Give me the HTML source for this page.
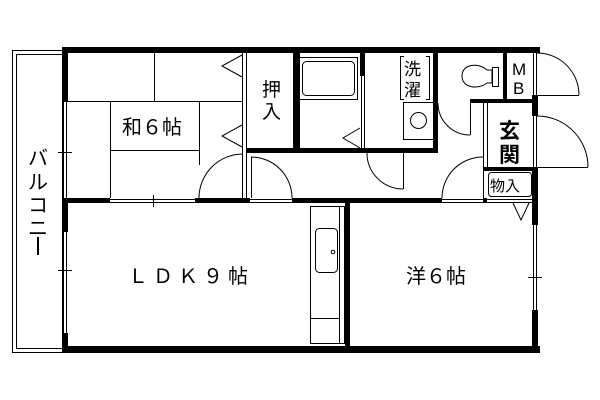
<!DOCTYPE html>
<html><head><meta charset="utf-8"><style>
html,body{margin:0;padding:0;background:#fff;}
svg{display:block;}
text{font-family:"Liberation Sans","Noto Sans CJK JP",sans-serif;fill:#000;}
</style></head><body>
<svg width="600" height="400" viewBox="0 0 600 400" xmlns="http://www.w3.org/2000/svg">
<g fill="none" stroke="#000" stroke-width="1">
<rect x="12.5" y="50.5" width="50" height="302"/>
<rect x="16.5" y="54.5" width="46" height="294"/>
</g>
<g fill="#000">
<rect x="62" y="47" width="478" height="6"/>
<rect x="62" y="47" width="6" height="55"/>
<rect x="62" y="198" width="6" height="34"/>
<rect x="62" y="333" width="6" height="20"/>
<rect x="62" y="346" width="478" height="7"/>
<rect x="62" y="198" width="48" height="5"/>
<rect x="195" y="198" width="55" height="5"/>
<rect x="292" y="198" width="150" height="5"/>
<rect x="483" y="198" width="4" height="5"/>
<rect x="532" y="47" width="6" height="6"/>
<rect x="532" y="95" width="6" height="21"/>
<rect x="532" y="167" width="6" height="58"/>
<rect x="532" y="310" width="6" height="43"/>
<rect x="345" y="203" width="5" height="150"/>
<rect x="296" y="53" width="4" height="100"/>
<rect x="247" y="148" width="53" height="5"/>
<rect x="293" y="53" width="4" height="100"/>
<rect x="360" y="53" width="5" height="23"/>
<rect x="293" y="148" width="145" height="5"/>
<rect x="433" y="53" width="5" height="100"/>
<rect x="470" y="99" width="67" height="4"/>
<rect x="503" y="53" width="4" height="46"/>
<rect x="483" y="167" width="54" height="4"/>
</g>
<g fill="none" stroke="#000" stroke-width="1">
<line x1="63.5" y1="102" x2="63.5" y2="198"/><line x1="66.5" y1="102" x2="66.5" y2="198"/>
<line x1="58" y1="152.5" x2="72" y2="152.5"/>
<line x1="63.5" y1="232" x2="63.5" y2="333"/><line x1="66.5" y1="232" x2="66.5" y2="333"/>
<line x1="58" y1="270.5" x2="72" y2="270.5"/>
<line x1="110" y1="199.5" x2="195" y2="199.5"/><line x1="110" y1="202.5" x2="195" y2="202.5"/>
<line x1="153.5" y1="195" x2="153.5" y2="207"/>
<line x1="533.5" y1="225" x2="533.5" y2="310"/><line x1="536.5" y1="225" x2="536.5" y2="310"/>
<line x1="528" y1="277.5" x2="542" y2="277.5"/>
<line x1="250" y1="199.5" x2="292" y2="199.5"/><line x1="250" y1="202.5" x2="292" y2="202.5"/>
<line x1="442" y1="199.5" x2="483" y2="199.5"/><line x1="442" y1="202.5" x2="483" y2="202.5"/>
<line x1="487" y1="199.5" x2="532" y2="199.5"/><line x1="487" y1="202.5" x2="532" y2="202.5"/>
<line x1="533.5" y1="53" x2="533.5" y2="95"/><line x1="536.5" y1="53" x2="536.5" y2="95"/>
<line x1="533.5" y1="116" x2="533.5" y2="167"/><line x1="536.5" y1="116" x2="536.5" y2="167"/>
<line x1="68" y1="101.5" x2="243" y2="101.5"/>
<line x1="154.5" y1="53" x2="154.5" y2="101"/>
<line x1="110.5" y1="101" x2="110.5" y2="198"/>
<line x1="199.5" y1="101" x2="199.5" y2="165"/>
<line x1="110" y1="150.5" x2="199" y2="150.5"/>
<line x1="242.5" y1="53" x2="242.5" y2="198"/><line x1="246.5" y1="53" x2="246.5" y2="198"/>
<polyline points="242,55 222,66 242,77"/>
<polyline points="242,125 222,136 242,147"/>
<path d="M199,198 A44,44 0 0 1 243,154"/><line x1="242.5" y1="154" x2="242.5" y2="198"/>
<path d="M292,198 A41,41 0 0 0 251,157"/><line x1="251.5" y1="157" x2="251.5" y2="198"/>
<path d="M367,153 A36,36 0 0 0 403,189"/><line x1="403.5" y1="153" x2="403.5" y2="189"/>
<path d="M442,198 A41,41 0 0 1 483,157"/><line x1="483.5" y1="157" x2="483.5" y2="198"/>
<path d="M438,103 A32,32 0 0 0 470,135"/><line x1="470.5" y1="103" x2="470.5" y2="135"/>
<path d="M537,53 A42,42 0 0 1 579,95"/><line x1="537" y1="95.5" x2="579" y2="95.5"/>
<path d="M537,116 A51,51 0 0 1 588,167"/><line x1="537" y1="167.5" x2="588" y2="167.5"/>
<polyline points="360,128 343,138 360,148"/>
<polyline points="513,203 521,220 529,203"/>
<line x1="361.5" y1="76" x2="361.5" y2="148"/><line x1="364.5" y1="76" x2="364.5" y2="148"/>
<rect x="299.5" y="57.5" width="58" height="42"/>
<rect x="302.5" y="61.5" width="52" height="34" rx="4"/>
<path d="M404,56.5 H400.5 V99.5 H404 M426,56.5 H429.5 V99.5 H426"/>
<rect x="403.5" y="102.5" width="30" height="37"/>
<circle cx="418.5" cy="120.5" r="8"/>
<path d="M492,70 H487 C478,62 462,64 462,76 C462,88 478,90 487,83 H492 Z"/>
<rect x="492.5" y="67.5" width="6" height="19"/>
<line x1="483.5" y1="103" x2="483.5" y2="198"/><line x1="487.5" y1="103" x2="487.5" y2="167"/>
<rect x="488.5" y="172.5" width="43" height="24" rx="3"/>
<rect x="310.5" y="206.5" width="34" height="137"/>
<line x1="339.5" y1="207" x2="339.5" y2="343"/>
<rect x="315.5" y="228.5" width="22" height="44" rx="4"/>
<circle cx="333" cy="252" r="1.8"/>
<line x1="310" y1="318.5" x2="339" y2="318.5"/>
</g>
<g>
<text x="122" y="134" font-size="20">和６帖</text>
<text x="262" y="96" font-size="19">押</text>
<text x="262" y="118" font-size="19">入</text>
<text x="404" y="75" font-size="17">洗</text>
<text x="404" y="96" font-size="17">濯</text>
<text x="512" y="75" font-size="17">M</text>
<text x="513" y="94" font-size="17">B</text>
<text x="499" y="138" font-size="21" font-weight="bold">玄</text>
<text x="499" y="162" font-size="21" font-weight="bold">関</text>
<text x="490" y="191" font-size="15">物入</text>
<text x="128" y="283" font-size="20" letter-spacing="5">ＬＤＫ９帖</text>
<text x="406" y="283" font-size="20">洋６帖</text>
<text x="28" y="165" font-size="20">バ</text>
<text x="28" y="189" font-size="20">ル</text>
<text x="28" y="212" font-size="20">コ</text>
<text x="28" y="235" font-size="20">ニ</text>
<rect x="37" y="237" width="2" height="18" fill="#000"/>
</g>
</svg>
</body></html>
